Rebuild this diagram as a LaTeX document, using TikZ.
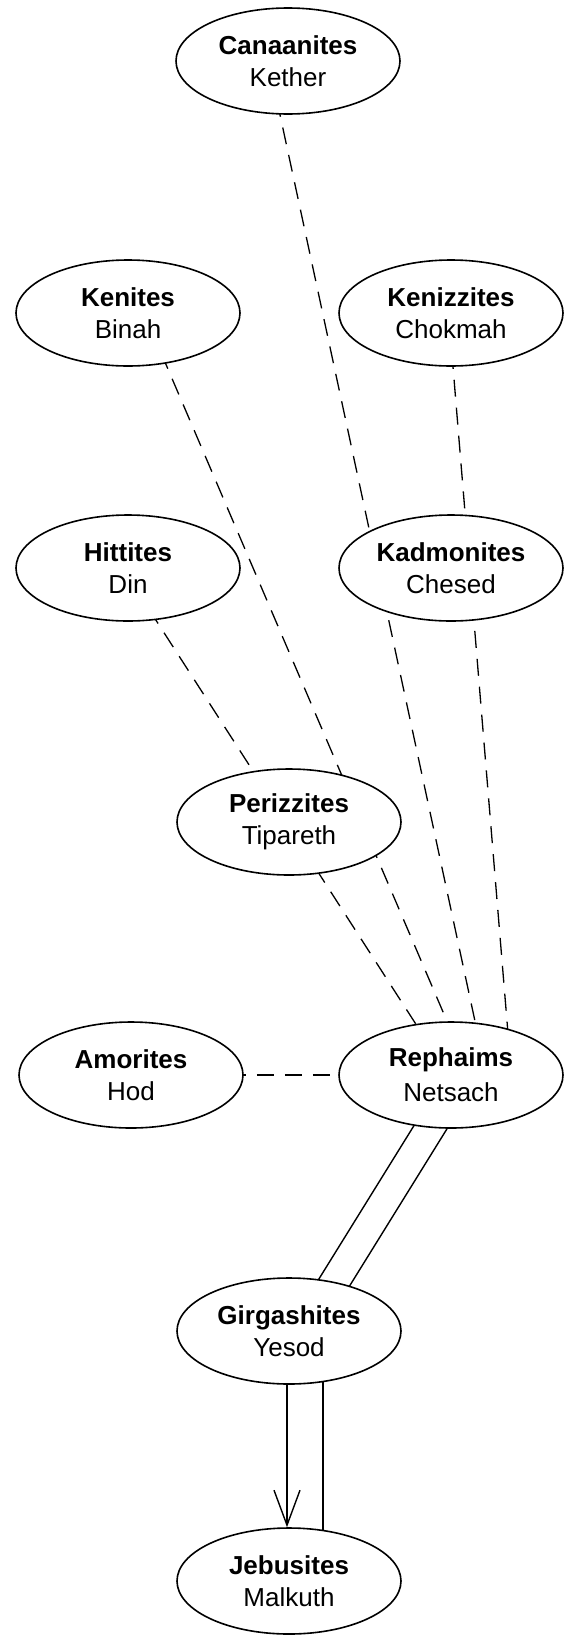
\documentclass[tikz,border=0pt]{standalone}
\usepackage{fontspec}
\setmainfont{Liberation Sans}
\usetikzlibrary{shapes.geometric,arrows.meta,backgrounds}

\begin{document}
\begin{tikzpicture}[x=1pt,y=-1pt,
    tribe/.style={draw, ellipse, fill=white, line width=1.6pt,
        minimum width=224pt, minimum height=106pt, inner sep=0pt,
        align=center, font=\fontsize{26}{32}\selectfont},
    dashlink/.style={line width=1.3pt, dash pattern=on 17pt off 11pt,
        shorten <=-15pt, shorten >=-15pt},
    pipe/.style={line width=1.4pt, shorten <=-20pt, shorten >=-20pt}]
    % Frame of the picture
    \useasboundingbox (0,0) rectangle (565,1636);

    % Define the tribes
    \node[tribe] (canaanites) at (288,61) {\textbf{Canaanites}\\Kether};
    \node[tribe] (kenites) at (128,313) {\textbf{Kenites}\\Binah};
    \node[tribe] (kenizzites) at (451,313) {\textbf{Kenizzites}\\Chokmah};
    \node[tribe] (hittites) at (128,568) {\textbf{Hittites}\\Din};
    \node[tribe] (kadmonites) at (451,568) {\textbf{Kadmonites}\\Chesed};
    \node[tribe] (perizzites) at (289,822) {\textbf{Perizzites}\\Tipareth};
    \node[tribe] (amorites) at (131,1075) {\textbf{Amorites}\\Hod};
    \node[tribe] (rephaims) at (451,1075) {\textbf{Rephaims}\\[3pt]Netsach};
    \node[tribe] (girgashites) at (289,1331) {\textbf{Girgashites}\\Yesod};
    \node[tribe] (jebusites) at (289,1581) {\textbf{Jebusites}\\Malkuth};

    \begin{scope}[on background layer]
        % Dashed links into Rephaims
        \draw[dashlink] ([xshift=-8pt]canaanites.south) -- ([xshift=24pt]rephaims.north);
        \draw[dashlink] ([xshift=39pt]kenites.south) -- ([xshift=-4pt]rephaims.north);
        \draw[dashlink] ([xshift=2pt]kenizzites.south) -- ([xshift=56pt]rephaims.north);
        \draw[dashlink] ([xshift=29pt]hittites.south) -- ([xshift=-37pt]rephaims.north);
        \draw[dashlink] (amorites.east) -- (rephaims.west);

        % Double line from Rephaims to Girgashites
        \draw[pipe] ([xshift=-39pt]rephaims.south) -- ([xshift=31pt]girgashites.north);
        \draw[pipe] ([xshift=-4pt]rephaims.south) -- ([xshift=66pt]girgashites.north);

        % Double line from Girgashites to Jebusites
        \draw[pipe, shorten >=0pt, -{Straight Barb[length=35pt,width=26pt]}]
            ([xshift=-2pt]girgashites.south) -- ([xshift=-2pt]jebusites.north);
        \draw[pipe] ([xshift=34pt]girgashites.south) -- ([xshift=34pt]jebusites.north);
    \end{scope}
\end{tikzpicture}
\end{document}
